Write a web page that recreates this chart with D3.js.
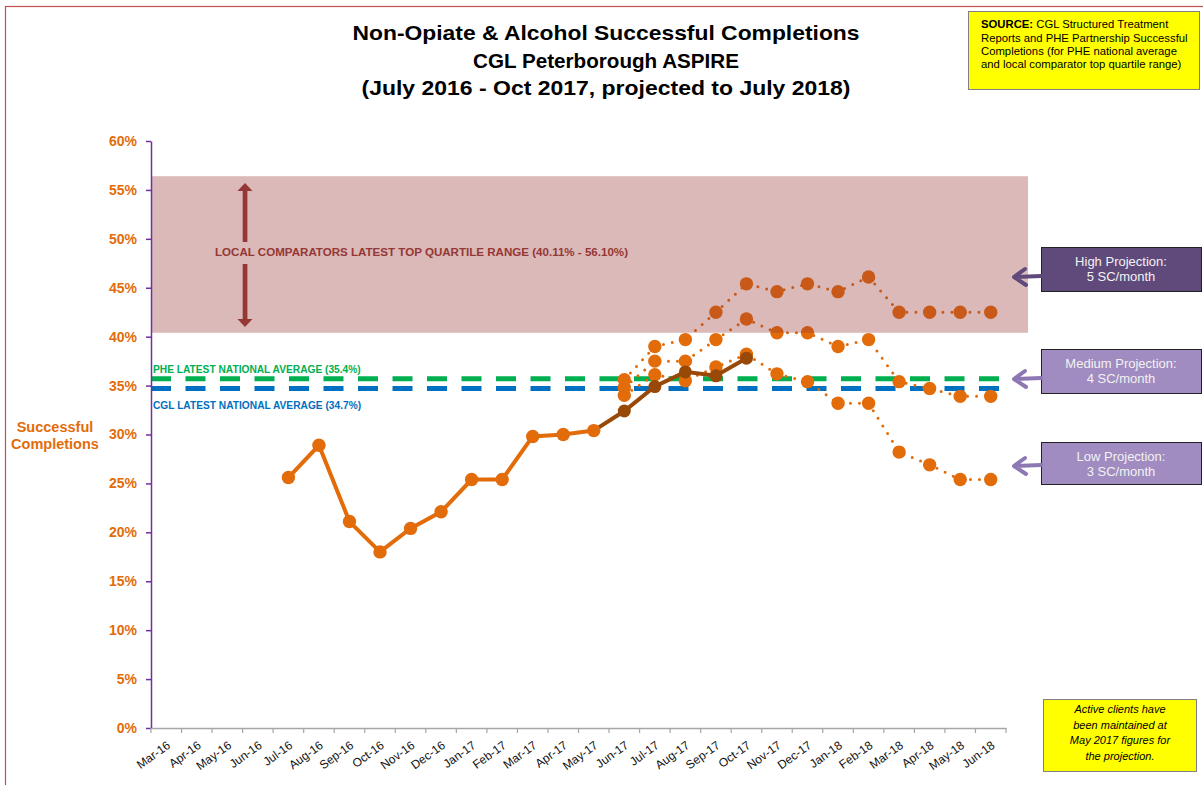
<!DOCTYPE html>
<html>
<head>
<meta charset="utf-8">
<script src="https://cdnjs.cloudflare.com/ajax/libs/d3/7.8.5/d3.min.js"></script>
<style>
  body { margin: 0; background: #fff; }
  svg { font-family: Arial, "Liberation Sans", sans-serif; }
</style>
</head>
<body>
<div id="chart"></div>
<script>
// months on the x axis
var months = ["Mar-16", "Apr-16", "May-16", "Jun-16", "Jul-16", "Aug-16", "Sep-16", "Oct-16",
  "Nov-16", "Dec-16", "Jan-17", "Feb-17", "Mar-17", "Apr-17", "May-17", "Jun-17", "Jul-17",
  "Aug-17", "Sep-17", "Oct-17", "Nov-17", "Dec-17", "Jan-18", "Feb-18", "Mar-18", "Apr-18",
  "May-18", "Jun-18"];

// successful completions (%), orange series
var actualMonths = ["Jul-16", "Aug-16", "Sep-16", "Oct-16", "Nov-16", "Dec-16", "Jan-17",
  "Feb-17", "Mar-17", "Apr-17", "May-17"];
var actualValues = [25.6, 28.9, 21.1, 18.0, 20.4, 22.1, 25.4, 25.4, 29.8, 30.0, 30.4];

// latest actuals, brown series
var latestMonths = ["May-17", "Jun-17", "Jul-17", "Aug-17", "Sep-17", "Oct-17"];
var latestValues = [30.4, 32.4, 34.9, 36.4, 36.0, 37.8];

// projections (dotted)
var projMonths = ["Jun-17", "Jul-17", "Aug-17", "Sep-17", "Oct-17", "Nov-17", "Dec-17",
  "Jan-18", "Feb-18", "Mar-18", "Apr-18", "May-18", "Jun-18"];
var highValues = [35.6, 39.0, 39.7, 42.5, 45.4, 44.6, 45.4, 44.6, 46.1, 42.5, 42.5, 42.5, 42.5];
var mediumValues = [34.8, 37.5, 37.5, 39.7, 41.8, 40.4, 40.4, 39.0, 39.7, 35.4, 34.7, 33.9, 33.9];
var lowValues = [34.0, 36.1, 35.5, 36.9, 38.2, 36.2, 35.4, 33.2, 33.2, 28.2, 26.9, 25.4, 25.4];

// y axis ticks
var yTicks = [0, 5, 10, 15, 20, 25, 30, 35, 40, 45, 50, 55, 60];

// reference band and lines
var bandRange = [40.4, 56.4];
var pheAverage = 35.7;
var cglAverage = 34.7;

var orange = "#e36c0a";
var brown = "#984807";

var svg = d3.select("#chart")
  .append("svg")
  .attr("width", 1203)
  .attr("height", 785);

// outer frame
svg.append("rect")
  .attr("x", 5.5).attr("y", 6.5)
  .attr("width", 1210).attr("height", 800)
  .attr("fill", "none")
  .attr("stroke", "#c0504d")
  .attr("stroke-width", 1.2);

// scales
var x = d3.scaleBand()
  .domain(months)
  .range([151, 1006]);

var y = d3.scaleLinear()
  .domain([0, 60])
  .range([728, 141]);

function cx(m) { return x(m) + x.bandwidth() / 2; }

// title, stretched to the widths seen in the original
var title = [
  {t: "Non-Opiate & Alcohol Successful Completions", w: 507},
  {t: "CGL Peterborough ASPIRE", w: 266},
  {t: "(July 2016 - Oct 2017, projected to July 2018)", w: 489}];
svg.selectAll(".title")
  .data(title)
  .enter().append("text")
  .attr("class", "title")
  .attr("x", 606)
  .attr("y", function(d, i) { return 40 + i * 27.5; })
  .attr("text-anchor", "middle")
  .attr("textLength", function(d) { return d.w; })
  .attr("lengthAdjust", "spacingAndGlyphs")
  .style("font-size", "21px")
  .style("font-weight", "bold")
  .text(function(d) { return d.t; });

// dashed average lines (under the points)
var avgLines = [{v: pheAverage, c: "#00b050"}, {v: cglAverage, c: "#0070c0"}];
svg.selectAll(".avg")
  .data(avgLines)
  .enter().append("line")
  .attr("x1", 151).attr("x2", 1001)
  .attr("y1", function(d) { return y(d.v); })
  .attr("y2", function(d) { return y(d.v); })
  .attr("stroke", function(d) { return d.c; })
  .attr("stroke-width", 5)
  .attr("stroke-dasharray", "20 14.5");

svg.append("text")
  .attr("x", 153).attr("y", 373)
  .attr("fill", "#00b050")
  .style("font-size", "10.2px").style("font-weight", "bold")
  .text("PHE LATEST NATIONAL AVERAGE (35.4%)");

svg.append("text")
  .attr("x", 153).attr("y", 409)
  .attr("fill", "#0070c0")
  .style("font-size", "10.2px").style("font-weight", "bold")
  .text("CGL LATEST NATIONAL AVERAGE (34.7%)");

// projection series
var projections = [highValues, mediumValues, lowValues];
var projLine = d3.line()
  .x(function(d, i) { return cx(projMonths[i]); })
  .y(function(d) { return y(d); });

projections.forEach(function(vals) {
  svg.append("path")
    .datum(vals)
    .attr("d", projLine)
    .attr("fill", "none")
    .attr("stroke", orange)
    .attr("stroke-width", 3)
    .attr("stroke-linecap", "round")
    .attr("stroke-dasharray", "0 9");

  svg.selectAll(null)
    .data(vals)
    .enter().append("circle")
    .attr("cx", function(d, i) { return cx(projMonths[i]); })
    .attr("cy", function(d) { return y(d); })
    .attr("r", 6.7)
    .attr("fill", orange);
});

// brown latest actuals
var latestLine = d3.line()
  .x(function(d, i) { return cx(latestMonths[i]); })
  .y(function(d) { return y(d); });

svg.append("path")
  .datum(latestValues)
  .attr("d", latestLine)
  .attr("fill", "none")
  .attr("stroke", brown)
  .attr("stroke-width", 4);

svg.selectAll(".latest")
  .data(latestValues.slice(1))
  .enter().append("circle")
  .attr("cx", function(d, i) { return cx(latestMonths[i + 1]); })
  .attr("cy", function(d) { return y(d); })
  .attr("r", 6.5)
  .attr("fill", brown);

// orange actuals
var actualLine = d3.line()
  .x(function(d, i) { return cx(actualMonths[i]); })
  .y(function(d) { return y(d); });

svg.append("path")
  .datum(actualValues)
  .attr("d", actualLine)
  .attr("fill", "none")
  .attr("stroke", orange)
  .attr("stroke-width", 4);

svg.selectAll(".actual")
  .data(actualValues)
  .enter().append("circle")
  .attr("cx", function(d, i) { return cx(actualMonths[i]); })
  .attr("cy", function(d) { return y(d); })
  .attr("r", 6.7)
  .attr("fill", orange);

// top quartile band, drawn over the points
svg.append("rect")
  .attr("x", 151)
  .attr("y", y(bandRange[1]))
  .attr("width", 1028 - 151)
  .attr("height", y(bandRange[0]) - y(bandRange[1]))
  .attr("fill", "#953735")
  .attr("fill-opacity", 0.35);

svg.append("text")
  .attr("x", 215).attr("y", 256)
  .attr("fill", "#953735")
  .attr("textLength", 413)
  .attr("lengthAdjust", "spacingAndGlyphs")
  .style("font-size", "11px").style("font-weight", "bold")
  .text("LOCAL COMPARATORS LATEST TOP QUARTILE RANGE (40.11% - 56.10%)");

// double arrow
var dark = "#953735";
svg.append("rect").attr("x", 242.7).attr("y", 190).attr("width", 4.7).attr("height", 52).attr("fill", dark);
svg.append("rect").attr("x", 242.7).attr("y", 264).attr("width", 4.7).attr("height", 57).attr("fill", dark);
svg.append("path").attr("d", "M245,183 L252.5,191 L237.5,191 Z").attr("fill", dark);
svg.append("path").attr("d", "M245,327 L252.5,319 L237.5,319 Z").attr("fill", dark);

// y axis
var yAxis = d3.axisLeft(y)
  .tickValues(yTicks)
  .tickSize(5)
  .tickSizeOuter(0)
  .tickFormat(function(d) { return d + "%"; });

var gy = svg.append("g")
  .attr("transform", "translate(151,0)")
  .call(yAxis);
gy.select(".domain").attr("stroke", "#7030a0").attr("stroke-width", 1.5);
gy.selectAll(".tick line").attr("stroke", "#7030a0").attr("stroke-width", 1.5);
gy.selectAll(".tick text")
  .attr("x", -14)
  .attr("fill", orange)
  .style("font-size", "14px")
  .style("font-weight", "bold")
  .style("font-family", "Arial, 'Liberation Sans', sans-serif");

// x axis
var xAxis = d3.axisBottom(x)
  .tickSize(5)
  .tickSizeOuter(0);

var gx = svg.append("g")
  .attr("transform", "translate(0,728)")
  .call(xAxis);
gx.select(".domain").attr("stroke", "#a6a6a6").attr("stroke-width", 1.5);
gx.selectAll(".tick line")
  .attr("stroke", "#a6a6a6")
  .attr("stroke-width", 1.2)
  .attr("transform", "translate(" + (-x.bandwidth() / 2) + ",0)");
gx.append("line")
  .attr("x1", 1006).attr("x2", 1006)
  .attr("y1", 0).attr("y2", 5)
  .attr("stroke", "#a6a6a6").attr("stroke-width", 1.2);
gx.selectAll(".tick text")
  .attr("fill", "#111")
  .attr("y", 0).attr("dy", 0)
  .attr("text-anchor", "end")
  .attr("transform", "translate(5,19) rotate(-36)")
  .style("font-size", "12px")
  .style("font-family", "Arial, 'Liberation Sans', sans-serif");

// y axis title
svg.selectAll(".ytitle")
  .data(["Successful", "Completions"])
  .enter().append("text")
  .attr("x", 55)
  .attr("y", function(d, i) { return 432 + i * 17; })
  .attr("text-anchor", "middle")
  .attr("fill", orange)
  .style("font-size", "14.5px").style("font-weight", "bold")
  .text(function(d) { return d; });

// projection labels with arrows
var boxes = [
  {y: 247, h: 44, fill: "#604a7b", arrow: "#604a7b", ay: 277, lines: ["High Projection:", "5 SC/month"]},
  {y: 349, h: 44, fill: "#a08cc0", arrow: "#8e78b3", ay: 379, lines: ["Medium Projection:", "4 SC/month"]},
  {y: 442, h: 42, fill: "#a08cc0", arrow: "#8e78b3", ay: 466, lines: ["Low Projection:", "3 SC/month"]}
];

boxes.forEach(function(b) {
  svg.append("rect")
    .attr("x", 1041.5).attr("y", b.y + 0.5)
    .attr("width", 160).attr("height", b.h)
    .attr("fill", b.fill)
    .attr("stroke", "#222").attr("stroke-width", 1);

  svg.selectAll(null)
    .data(b.lines)
    .enter().append("text")
    .attr("x", 1121)
    .attr("y", function(d, i) { return b.y + 19 + i * 15; })
    .attr("text-anchor", "middle")
    .attr("fill", "#f2f2f2")
    .style("font-size", "13px")
    .text(function(d) { return d; });

  svg.append("path")
    .attr("d", "M1041," + (b.ay - 1) + " L1014," + b.ay +
      " M1025," + (b.ay - 8) + " L1014," + b.ay + " L1026," + (b.ay + 8))
    .attr("fill", "none")
    .attr("stroke", b.arrow)
    .attr("stroke-width", 4)
    .attr("stroke-linecap", "round")
    .attr("stroke-linejoin", "round");
});

// source box
svg.append("rect")
  .attr("x", 968.5).attr("y", 11.5)
  .attr("width", 231).attr("height", 78)
  .attr("fill", "#ffff00")
  .attr("stroke", "#808080");

var source = svg.append("text")
  .style("font-size", "11.3px");
source.append("tspan").attr("x", 981).attr("y", 28).style("font-weight", "bold").text("SOURCE:");
source.append("tspan").text(" CGL Structured Treatment");
["Reports and PHE Partnership Successful", "Completions (for PHE national average",
  "and local comparator top quartile range)"].forEach(function(t, i) {
  source.append("tspan").attr("x", 981).attr("y", 41.5 + i * 13.3).text(t);
});

// note box
svg.append("rect")
  .attr("x", 1043.5).attr("y", 699.5)
  .attr("width", 153).attr("height", 72)
  .attr("fill", "#ffff00")
  .attr("stroke", "#808080");

svg.selectAll(".note")
  .data(["Active clients have", "been maintained at", "May 2017 figures for", "the projection."])
  .enter().append("text")
  .attr("x", 1120)
  .attr("y", function(d, i) { return 713 + i * 15.5; })
  .attr("text-anchor", "middle")
  .style("font-size", "11px")
  .style("font-style", "italic")
  .text(function(d) { return d; });
</script>
</body>
</html>
